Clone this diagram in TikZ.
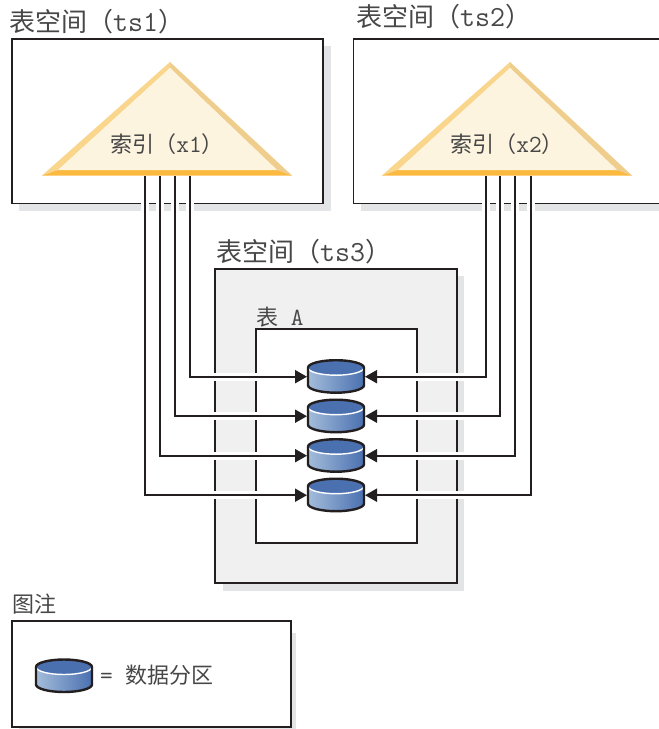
\documentclass[tikz,border=0pt]{standalone}
\usepackage{fontspec}
\setmainfont{Noto Sans CJK SC}
\setmonofont{Latin Modern Mono}[Scale=1.12]
\usetikzlibrary{arrows.meta, positioning}
\definecolor{shadowgray}{HTML}{E3E4E6}
\definecolor{panelgray}{HTML}{F0F0F0}
\definecolor{inkline}{HTML}{231F20}
\definecolor{triface}{HTML}{FDF4E0}
\definecolor{trileft}{HTML}{F9D68C}
\definecolor{triright}{HTML}{EFCE8D}
\definecolor{tribase}{HTML}{FBB93F}
\definecolor{disktop}{HTML}{4A70B0}
\definecolor{diskpale}{HTML}{A5BEDB}
\tikzset{
  spacebox/.style={draw=inkline, line width=1.7pt, fill=white, inner sep=0pt, outer sep=0pt, anchor=north west},
  titletext/.style={inner sep=0pt, anchor=base west, text=black!72, font=\fontsize{26}{26}\selectfont},
  smalltitle/.style={titletext, font=\fontsize{22}{22}\selectfont},
  indextext/.style={inner sep=0pt, text=black!72, font=\fontsize{22}{22}\selectfont},
  link/.style={draw=inkline, line width=2pt},
  linkarrow/.style={link, -{Triangle[length=12pt,width=13pt]}},
  halo/.style={draw=white, line width=8pt},
  diskslot/.style={inner sep=0pt, outer sep=0pt, minimum width=58pt, minimum height=34pt},
}
% index triangle: centre x, then the name of its label
\newcommand{\indextri}[3]{
  \fill[trileft] (#1,62) -- (#1-128,175.5) -- (#1-112,170) -- (#1,68) -- cycle;
  \fill[triright] (#1,62) -- (#1+122,175.5) -- (#1+107,170) -- (#1,68) -- cycle;
  \fill[tribase] (#1-128,175.5) -- (#1+122,175.5) -- (#1+107,170) -- (#1-112,170) -- cycle;
  \fill[triface] (#1,68) -- (#1-112,170) -- (#1+107,170) -- cycle;
  \node[indextext] (#2) at (#1-3,144) {#3};
}
% disk drawn in a diskslot node
\newcommand{\diskat}[1]{
  \path[left color=diskpale, right color=disktop] (#1.west) ++(1,-9)
    -- ++(0,17.5) arc[start angle=180, end angle=360, x radius=28, y radius=-7.5] -- ++(0,-17.5) -- cycle;
  \fill[disktop] (#1.west) ++(1,-9) arc[start angle=180, end angle=540, x radius=28, y radius=7.5];
  \draw[white, line width=1.4pt] (#1.west) ++(1,-9) arc[start angle=180, end angle=360, x radius=28, y radius=-7.5];
  \draw[inkline, line width=2.4pt] (#1.west) ++(1,-9) arc[start angle=180, end angle=360, x radius=28, y radius=7.5]
    -- ++(0,17.5) arc[start angle=360, end angle=180, x radius=28, y radius=-7.5] -- cycle;
}
\begin{document}
\begin{tikzpicture}[x=1pt,y=-1pt]
  \useasboundingbox (0,0) rectangle (659,729);

  % shadows
  \fill[shadowgray] (19,46) rectangle (331,211);
  \fill[shadowgray] (361,46) rectangle (659,211);
  \fill[shadowgray] (223,276) rectangle (464,591);
  \fill[shadowgray] (19,633) rectangle (296,729);

  % spaces
  \node[spacebox, minimum width=311.3pt, minimum height=164.4pt] (ts1) at (12,39) {};
  \node[spacebox, minimum width=330pt, minimum height=164.4pt] (ts2) at (353.5,39) {};
  \node[spacebox, fill=panelgray, minimum width=241.7pt, minimum height=314pt] (ts3) at (215,268.7) {};
  \node[spacebox, minimum width=160.4pt, minimum height=213.7pt] (tableA) at (256.3,329) {};

  \node[titletext] (ts1title) at (9,31) {表空间（\texttt{ts1}）};
  \node[titletext] (ts2title) at (356,26) {表空间（\texttt{ts2}）};
  \node[titletext] (ts3title) at (216,261) {表空间（\texttt{ts3}）};
  \node[smalltitle] (tableAtitle) at (256,325) {表\texttt{~A}};

  \indextri{170}{x1}{索引（\texttt{x1}）}
  \indextri{510}{x2}{索引（\texttt{x2}）}

  % disks
  \node[diskslot] (d1) at (336,376.7) {};
  \node[diskslot, below=5.5pt of d1] (d2) {};
  \node[diskslot, below=5.5pt of d2] (d3) {};
  \node[diskslot, below=5.5pt of d3] (d4) {};

  \foreach \dsk in {d1,d2,d3,d4} {\diskat{\dsk}}

  % feet of the links under each triangle
  \foreach \nm/\xx in {a4/145.3,a3/160,a2/174.7,a1/190,b1/485.5,b2/500,b3/514.5,b4/531} {
    \coordinate (\nm) at (\xx,175.5);
    \draw[halo] (\xx,197) -- (\xx,214);
  }
  \foreach \yy in {376.7,416.2,455.7,495.2} {
    \draw[halo] (207,\yy) -- (258,\yy);
    \draw[halo] (414.5,\yy) -- (468,\yy);
  }

  \foreach \i in {1,2,3,4} {
    \draw[linkarrow] (a\i) |- (d\i.west);
    \draw[linkarrow] (b\i) |- (d\i.east);
  }

  % legend
  \node[smalltitle] (legendtitle) at (12,612) {图注};
  \node[spacebox, minimum width=278.4pt, minimum height=106pt] (legend) at (12.3,621) {};
  \node[diskslot] (dkey) at (64,676) {};
  \diskat{dkey}
  \node[indextext, anchor=west] (keytext) at (100,675) {\texttt{=~}数据分区};
\end{tikzpicture}
\end{document}
